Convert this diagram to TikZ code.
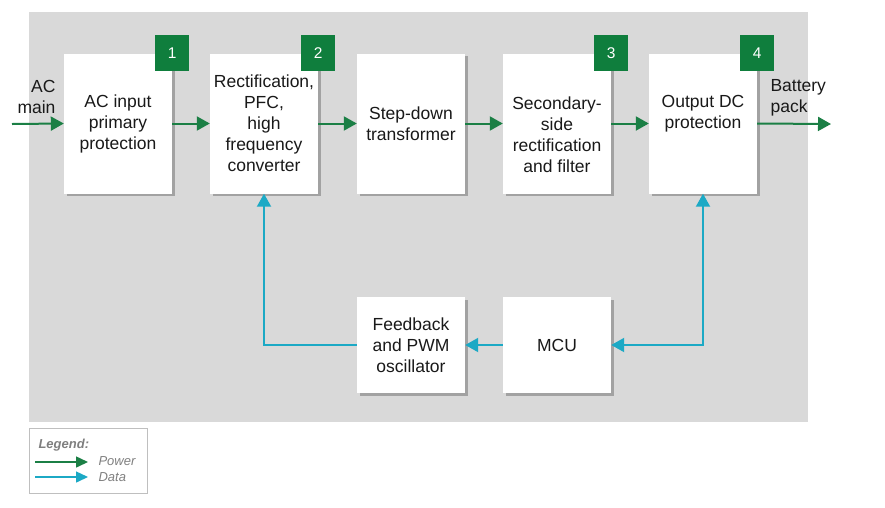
\documentclass[tikz,border=0pt]{standalone}
\usepackage{fontspec}
\setmainfont{Liberation Sans}
\usetikzlibrary{arrows.meta,shadows}
\definecolor{powergreen}{HTML}{1B7F45}
\definecolor{badgegreen}{HTML}{0F7E3D}
\definecolor{datacyan}{HTML}{1CA9C5}
\definecolor{panelgray}{HTML}{D9D9D9}
\definecolor{legendgray}{HTML}{7F7F7F}

\tikzset{
  blk/.style={fill=white, minimum width=108pt, inner sep=0pt,
    drop shadow={shadow xshift=2.5pt, shadow yshift=-2.5pt, fill=black, opacity=.25}},
  txt/.style={align=center, font=\fontsize{17.5}{21}\selectfont, text=black!90},
  badge/.style={fill=badgegreen, text=white, minimum width=34pt, minimum height=36pt,
    inner sep=0pt, font=\fontsize{15.5}{15.5}\selectfont},
  power/.style={draw=powergreen, line width=2pt, -{Triangle[length=13pt,width=14pt]}},
  data/.style={draw=datacyan, line width=2pt, -{Triangle[length=13pt,width=14pt]}},
  legtext/.style={anchor=west, text=legendgray, font=\fontsize{13}{13}\selectfont\itshape}
}

\begin{document}
\begin{tikzpicture}[x=1pt, y=-1pt]
    \useasboundingbox (0,0) rectangle (885,507);
    \fill[panelgray] (29,12) rectangle (808,422);

    % top row
    \foreach \n/\x in {1/118, 2/264, 3/411, 4/557, 5/703}{
      \node[blk, minimum height=140pt] (b\n) at (\x,123.5) {};
    }
    \node[txt] (t1) at (b1.center) {AC input\\primary\\protection};
    \node[txt] (t2) at (b2.center) {Rectification,\\PFC,\\high\\frequency\\converter};
    \node[txt] (t3) at (b3.center) {Step-down\\transformer};
    \node[txt] (t4) at ([yshift=-11pt]b4.center) {Secondary-\\side\\rectification\\and filter};
    \node[txt] (t5) at ([yshift=10pt]b5.center) {Output DC\\protection};

    \node[badge] (n1) at (b1.north east) {1};
    \node[badge] (n2) at (b2.north east) {2};
    \node[badge] (n3) at (b4.north east) {3};
    \node[badge] (n4) at (b5.north east) {4};

    % bottom row
    \node[blk, minimum height=96pt] (fb) at (411,345) {};
    \node[txt] (tfb) at (fb.center) {Feedback\\and PWM\\oscillator};
    \node[blk, minimum height=96pt] (mcu) at (557,345) {};
    \node[txt] (tmcu) at (mcu.center) {MCU};

    % power path
    \coordinate (acin) at (12,124);
    \coordinate (batt) at (831,124);
    \node[txt, align=right, anchor=east] (acl) at (59,97) {AC\\main};
    \node[txt, align=left, anchor=west] (btl) at (767,98) {Battery\\pack};
    \draw[power] (acin) -- (b1.west);
    \foreach \a/\b in {1/2, 2/3, 3/4, 4/5}{
      \draw[power] (b\a.east) -- (b\b.west);
    }
    \draw[power] (b5.east) -- (batt);

    % data path
    \draw[data] (mcu.west) -- (fb.east);
    \draw[data] (fb.west) -| (b2.south);
    \draw[data, {Triangle[length=13pt,width=14pt]}-{Triangle[length=13pt,width=14pt]}] (b5.south) |- (mcu.east);

    % legend
    \node[draw=black!25, minimum width=118pt, minimum height=65pt, inner sep=0pt] (leg) at (88,460.5) {};
    \node[legtext, font=\fontsize{13}{13}\selectfont\bfseries\itshape] (legt) at (35,445) {Legend:};
    \coordinate (p0) at (35,462);
    \coordinate (p1) at (88,462);
    \coordinate (d0) at (35,477);
    \coordinate (d1) at (88,477);
    \draw[draw=powergreen, line width=1.5pt, -{Triangle[length=12pt,width=11pt]}] (p0) -- (p1);
    \draw[draw=datacyan, line width=1.5pt, -{Triangle[length=12pt,width=11pt]}] (d0) -- (d1);
    \node[legtext] (lp) at (95,461) {Power};
    \node[legtext] (ld) at (95,477) {Data};
\end{tikzpicture}
\end{document}
